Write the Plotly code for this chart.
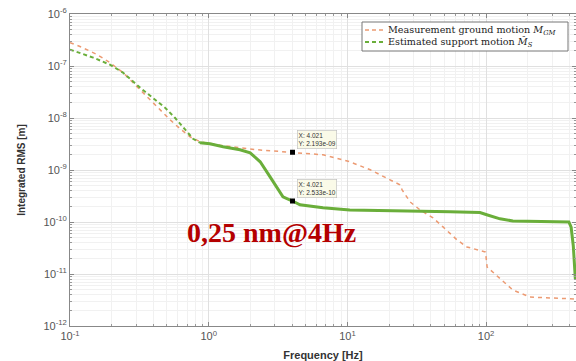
import numpy as np
import plotly.graph_objects as go

# Measured ground motion, integrated RMS [m]
freq_gm = [0.1, 0.118, 0.157, 0.194, 0.241, 0.304, 0.365, 0.445, 0.526, 0.621, 0.733, 0.866,
           1.02, 1.21, 2.23, 4.021, 6.67, 10.4, 14.6, 20.3, 23.9, 24.8, 28.3, 33.4, 41.4, 48.9,
           61.7, 72.8, 90.3, 99.0, 101.7, 112, 122, 156, 207, 275, 445]
rms_gm = [2.82e-7, 2.37e-7, 1.66e-7, 1.16e-7, 7.47e-8, 4.01e-8, 2.46e-8, 1.44e-8, 9.27e-9,
          6.22e-9, 4.36e-9, 3.49e-9, 3.2e-9, 3.0e-9, 2.45e-9, 2.193e-9, 1.96e-9, 1.44e-9,
          1.01e-9, 6.48e-10, 5.19e-10, 4.15e-10, 2.44e-10, 1.71e-10, 1.20e-10, 8.05e-11,
          4.52e-11, 3.31e-11, 2.9e-11, 2.65e-11, 1.36e-11, 1.09e-11, 8.75e-12, 4.92e-12,
          3.6e-12, 3.45e-12, 3.3e-12]

# Estimated support motion, integrated RMS [m]
freq_s = [0.1, 0.147, 0.194, 0.241, 0.320, 0.397, 0.484, 0.571, 0.675, 0.771, 0.866,
          1.02, 1.27, 1.68, 1.99, 2.15, 2.35, 2.77, 3.11, 3.43, 4.021, 4.55, 6.67, 10.4, 55,
          90.3, 101, 126, 156, 395, 410, 425, 440]
rms_s = [2.07e-7, 1.45e-7, 1.06e-7, 7.47e-8, 3.84e-8, 2.46e-8, 1.58e-8, 1.01e-8, 5.96e-9,
         3.99e-9, 3.34e-9, 3.2e-9, 2.8e-9, 2.45e-9, 2.14e-9, 1.76e-9, 1.44e-9, 7.4e-10,
         4.54e-10, 3.05e-10, 2.533e-10, 2.14e-10, 1.87e-10, 1.70e-10, 1.58e-10, 1.52e-10,
         1.38e-10, 1.15e-10, 1.05e-10, 1.0e-10, 8.0e-11, 3.5e-11, 8.0e-12]
split_s = 10  # index where the estimated curve turns into a dense solid line

tip_f = 4.021
tip_gm = 2.193e-9
tip_s = 2.533e-10

x_ticks = [0.1, 1, 10, 100]
x_ticklabels = ["10<sup>-1</sup>", "10<sup>0</sup>", "10<sup>1</sup>", "10<sup>2</sup>"]
y_ticks = [1e-12, 1e-11, 1e-10, 1e-9, 1e-8, 1e-7, 1e-6]
y_ticklabels = ["10<sup>-12</sup>", "10<sup>-11</sup>", "10<sup>-10</sup>", "10<sup>-9</sup>",
                "10<sup>-8</sup>", "10<sup>-7</sup>", "10<sup>-6</sup>"]
legend_labels = ["Measurement ground motion <i>M<sub>GM</sub></i>",
                 "Estimated support motion <i>M\u0302<sub>S</sub></i>"]

orange = "#EC9A72"
green = "#6AAE3A"

W, H = 576, 361
ML, MR, MT, MB = 70, 0, 14, 35
PW, PH = W - ML - MR, H - MT - MB


def px(x):
    return (x - ML) / PW


def py(y):
    return 1 - (y - MT) / PH


fig = go.Figure()
fig.add_trace(go.Scatter(x=freq_gm, y=rms_gm, mode="lines",
                         line=dict(color=orange, width=1.5, dash="4px,4px"),
                         name=legend_labels[0], showlegend=False))
fig.add_trace(go.Scatter(x=freq_s[:split_s + 1], y=rms_s[:split_s + 1], mode="lines",
                         line=dict(color=green, width=2, dash="4px,3px"),
                         name=legend_labels[1], showlegend=False))
fig.add_trace(go.Scatter(x=freq_s[split_s:], y=rms_s[split_s:], mode="lines",
                         line=dict(color=green, width=3), showlegend=False))
fig.add_trace(go.Scatter(x=[tip_f, tip_f], y=[tip_gm, tip_s], mode="markers",
                         marker=dict(symbol="square", size=5, color="black"),
                         showlegend=False))

for yv in (tip_gm, tip_s):
    fig.add_annotation(x=np.log10(tip_f), y=np.log10(yv), xref="x", yref="y",
                       text=f"X: {tip_f}<br>Y: {yv:.3e}",
                       showarrow=False, xanchor="left", yanchor="bottom",
                       xshift=4, yshift=3, align="left",
                       font=dict(family="Liberation Sans, Arial", size=6.5, color="#333333"),
                       bgcolor="#FAFAE8", bordercolor="#BBBBBB", borderwidth=0.6, borderpad=1)

fig.add_annotation(x=px(271), y=py(232), xref="paper", yref="paper",
                   text="<b>0,25 nm@4Hz</b>", showarrow=False,
                   xanchor="center", yanchor="middle",
                   font=dict(family="Liberation Serif, Times New Roman", size=28, color="#B40000"))

# legend drawn as a framed box
fig.add_shape(type="rect", xref="paper", yref="paper", x0=px(362), x1=px(568),
              y0=py(51), y1=py(22), line=dict(color="#777777", width=1), fillcolor="white",
              layer="above")
for i, (col, dash, wid) in enumerate([(orange, "4px,3px", 1.5), (green, "4px,3px", 2)]):
    yy = 30 + 12 * i
    fig.add_shape(type="line", xref="paper", yref="paper", x0=px(365), x1=px(384),
                  y0=py(yy), y1=py(yy), line=dict(color=col, width=wid, dash=dash),
                  layer="above")
    fig.add_annotation(x=px(386), y=py(yy), xref="paper", yref="paper",
                       text=legend_labels[i], showarrow=False, xanchor="left",
                       yanchor="middle",
                       font=dict(family="DejaVu Serif", size=9.6, color="#222222"))

axis_common = dict(
    type="log", showline=True, linecolor="#888888", linewidth=1, mirror="ticks",
    ticks="inside", ticklen=4, tickcolor="#888888", automargin=False,
    ticklabeloverflow="allow",
    showgrid=True, gridcolor="#E0E0E0", gridwidth=1, zeroline=False,
    tickfont=dict(family="Liberation Sans, Arial", size=11, color="#555555"),
)

x_minor = [m * 10.0 ** e for e in range(-1, 3) for m in range(2, 10)]
y_minor = [m * 10.0 ** e for e in range(-12, -6) for m in range(2, 10)]

fig.update_xaxes(**axis_common, range=[-1, 2.648], tickvals=x_ticks, ticktext=x_ticklabels,
                 minor=dict(tickmode="array", tickvals=x_minor, ticks="inside", ticklen=2,
                            tickcolor="#999999", showgrid=True, gridcolor="#F1F1F1"),
                 title=dict(text="<b>Frequency [Hz]</b>",
                            font=dict(family="Liberation Sans, Arial", size=11, color="#333333")))
fig.update_yaxes(**axis_common, range=[-12, -6], tickvals=y_ticks, ticktext=y_ticklabels,
                 minor=dict(tickmode="array", tickvals=y_minor, ticks="inside", ticklen=2,
                            tickcolor="#999999", showgrid=True, gridcolor="#F1F1F1"),
                 title=dict(text="<b>Integrated RMS [m]</b>",
                            font=dict(family="Liberation Sans, Arial", size=10, color="#333333")))

fig.update_layout(
    width=W, height=H,
    margin=dict(l=ML, r=MR, t=MT, b=MB),
    paper_bgcolor="white", plot_bgcolor="white",
    showlegend=False,
)

# remove the default page margin so the figure sits at the window's top-left corner
fig.write_html("out.html", config={"displayModeBar": False},
               post_script="document.body.style.margin='0';")
